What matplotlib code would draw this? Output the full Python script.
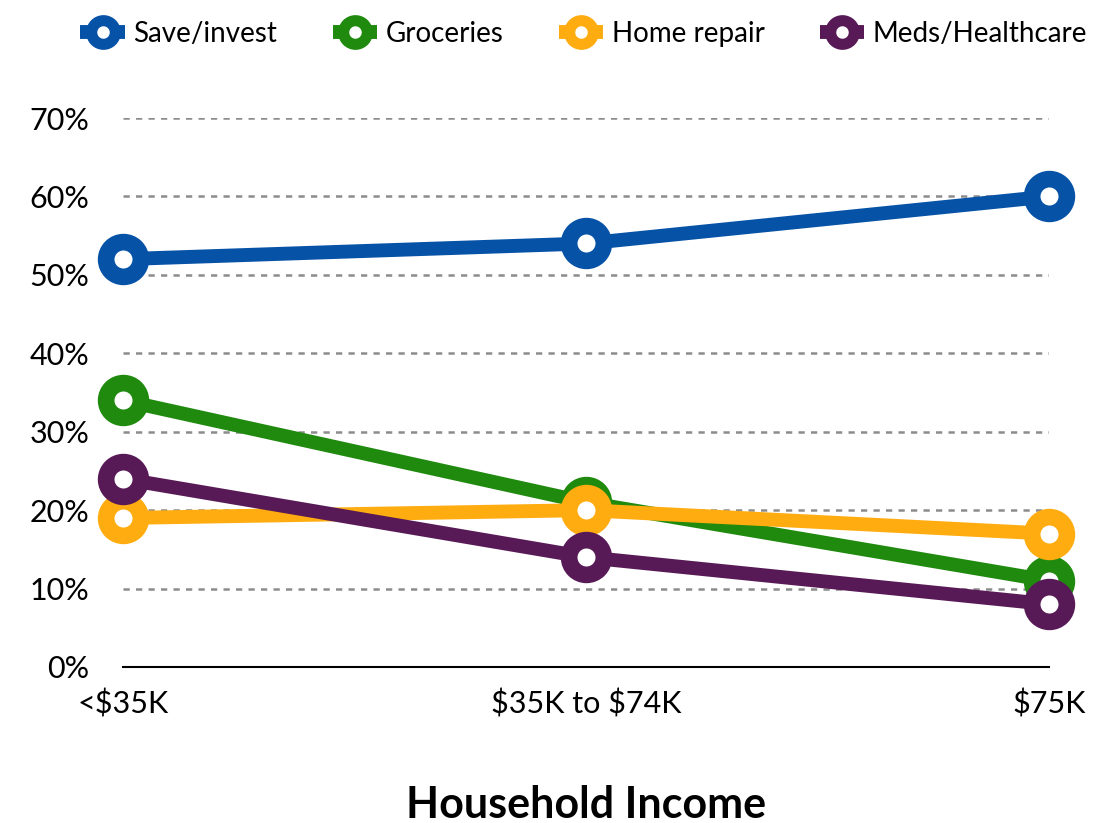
import matplotlib
matplotlib.use("Agg")
import matplotlib.pyplot as plt
from matplotlib.ticker import FuncFormatter

categories = ["<$35K", "$35K to $74K", "$75K"]
series_names = ["Save/invest", "Groceries", "Home repair", "Meds/Healthcare"]
save_invest = [52, 54, 60]
groceries = [34, 21, 11]
home_repair = [19, 20, 17]
meds_healthcare = [24, 14, 8]
colors = ["#0652A6", "#1F8A0E", "#FFAC10", "#581A56"]
yticks = [0, 10, 20, 30, 40, 50, 60, 70]

plt.rcParams['font.family'] = ['Lato', 'DejaVu Sans']
plt.rcParams['text.parse_math'] = False

W, H = 1112, 823
fig = plt.figure(figsize=(W / 100, H / 100), dpi=100)
ax = fig.add_axes([123 / W, 1 - 667 / H, (1049 - 123) / W, (667 - 118) / H])

x = list(range(len(categories)))
data = [save_invest, groceries, home_repair, meds_healthcare]
handles = []
for name, vals, c in zip(series_names, data, colors):
    h, = ax.plot(x, vals, color=c, lw=10, marker='o', ms=25, mew=12,
                 mfc='white', mec=c, clip_on=False, label=name, zorder=3,
                 solid_capstyle='butt')
    handles.append(h)

ax.set_xlim(0, 2)
ax.set_ylim(0, 70)
ax.set_yticks(yticks)
ax.yaxis.set_major_formatter(FuncFormatter(lambda v, p: f"{int(v)}%"))
ax.set_xticks(x)
ax.set_xticklabels(categories)
ax.tick_params(axis='both', length=0, labelsize=22)
ax.tick_params(axis='y', pad=24)
ax.tick_params(axis='x', pad=16)

for t in yticks[1:]:
    ax.axhline(t, color='#8C8C8C', lw=1.8, ls=(0, (2.5, 2.5)), zorder=1)
for s in ['top', 'right', 'left']:
    ax.spines[s].set_visible(False)
ax.spines['bottom'].set_color('black')
ax.spines['bottom'].set_linewidth(1.5)

ax.set_xlabel("Household Income", fontsize=31, fontweight='bold', labelpad=48)

leg = fig.legend(handles=handles, loc='upper center', bbox_to_anchor=(0.525, 1.005),
                 ncol=4, frameon=False, fontsize=20, handlelength=1.6,
                 handletextpad=0.3, columnspacing=2.0, markerscale=0.68)
for lh in leg.get_lines():
    lh.set_markeredgewidth(8)
    lh.set_linewidth(10)

fig.savefig("out.png", dpi=100)
